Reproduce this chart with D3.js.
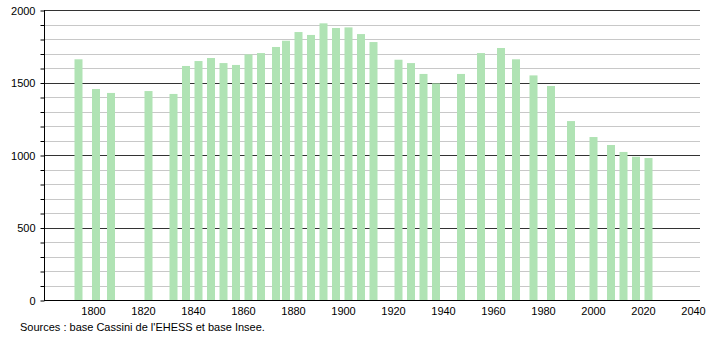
<!DOCTYPE html>
<html>
<head>
<meta charset="utf-8">
<script src="https://cdn.jsdelivr.net/npm/d3@7"></script>
<style>
  body { margin: 0; background: #fff; }
  text { font-family: "Liberation Sans", Arial, sans-serif; }
</style>
</head>
<body>
<div id="chart"></div>
<script>
// population by census year
var years = [1793, 1800, 1806, 1821, 1831, 1836, 1841, 1846, 1851, 1856,
  1861, 1866, 1872, 1876, 1881, 1886, 1891, 1896, 1901, 1906, 1911,
  1921, 1926, 1931, 1936, 1946, 1954, 1962, 1968, 1975, 1982, 1990,
  1999, 2006, 2011, 2016, 2021];
var population = [1660, 1455, 1428, 1441, 1421, 1614, 1648, 1669, 1634, 1621,
  1694, 1703, 1745, 1788, 1848, 1828, 1908, 1876, 1880, 1834, 1779,
  1657, 1634, 1559, 1494, 1559, 1703, 1738, 1660, 1549, 1476, 1234,
  1124, 1069, 1021, 988, 979];
var xTicks = [1800, 1820, 1840, 1860, 1880, 1900, 1920, 1940, 1960, 1980, 2000, 2020, 2040];
var yTicks = [0, 500, 1000, 1500, 2000];
var source = "Sources : base Cassini de l'EHESS et base Insee.";

var W = 710, H = 340;
var plot = { left: 44, right: 700, top: 10, bottom: 300 };

var svg = d3.select("#chart").append("svg")
  .attr("width", W).attr("height", H);

var x = d3.scaleLinear().domain([1780, 2042]).range([45, 700]);
var y = d3.scaleLinear().domain([0, 2000]).range([plot.bottom, plot.top]);

// grid lines every 100, darker every 500
var grid = d3.range(100, 2001, 100);
svg.append("g").selectAll("line")
  .data(grid).enter().append("line")
  .attr("x1", plot.left).attr("x2", plot.right)
  .attr("y1", function(d){ return Math.round(y(d)) + 0.5; })
  .attr("y2", function(d){ return Math.round(y(d)) + 0.5; })
  .style("stroke", function(d){ return yTicks.indexOf(d) >= 0 ? "#333" : "#c8c8c8"; })
  .style("stroke-width", 1);

// bars
svg.append("g").selectAll("rect")
  .data(years).enter().append("rect")
  .attr("x", function(d){ return x(d) - 3; })
  .attr("width", 8)
  .attr("y", function(d, i){ return y(population[i]); })
  .attr("height", function(d, i){ return plot.bottom - y(population[i]); })
  .style("fill", "#b0e3b4");

// left axis with minor ticks
var yAxis = d3.axisLeft(y).tickValues(grid.concat([0])).tickSize(4)
  .tickFormat(function(d){ return yTicks.indexOf(d) >= 0 ? d : ""; });
var ya = svg.append("g")
  .attr("transform", "translate(" + (plot.left + 0.5) + ",0.5)")
  .call(yAxis);
ya.select(".domain").attr("d", "M0," + (plot.top - 0.5) + "V" + (plot.bottom - 0.5)).style("stroke", "#000");
ya.selectAll(".tick line").style("stroke", "#000");
ya.selectAll(".tick text").attr("x", -9).style("font-size", "11px").style("fill", "#000")
  .attr("font-family", null);

// bottom axis
var xAxis = d3.axisBottom(x).tickValues(xTicks).tickSize(0).tickFormat(d3.format("d"));
var xa = svg.append("g")
  .attr("transform", "translate(0," + (plot.bottom + 0.5) + ")")
  .call(xAxis);
xa.select(".domain").attr("d", "M" + plot.left + ",0H" + plot.right).style("stroke", "#000");
xa.selectAll(".tick text").attr("y", 7).attr("dx", "-2").style("font-size", "11px").style("fill", "#000")
  .attr("font-family", null);

svg.append("text")
  .attr("x", 20).attr("y", 331)
  .style("font-size", "11px")
  .text(source);
</script>
</body>
</html>
